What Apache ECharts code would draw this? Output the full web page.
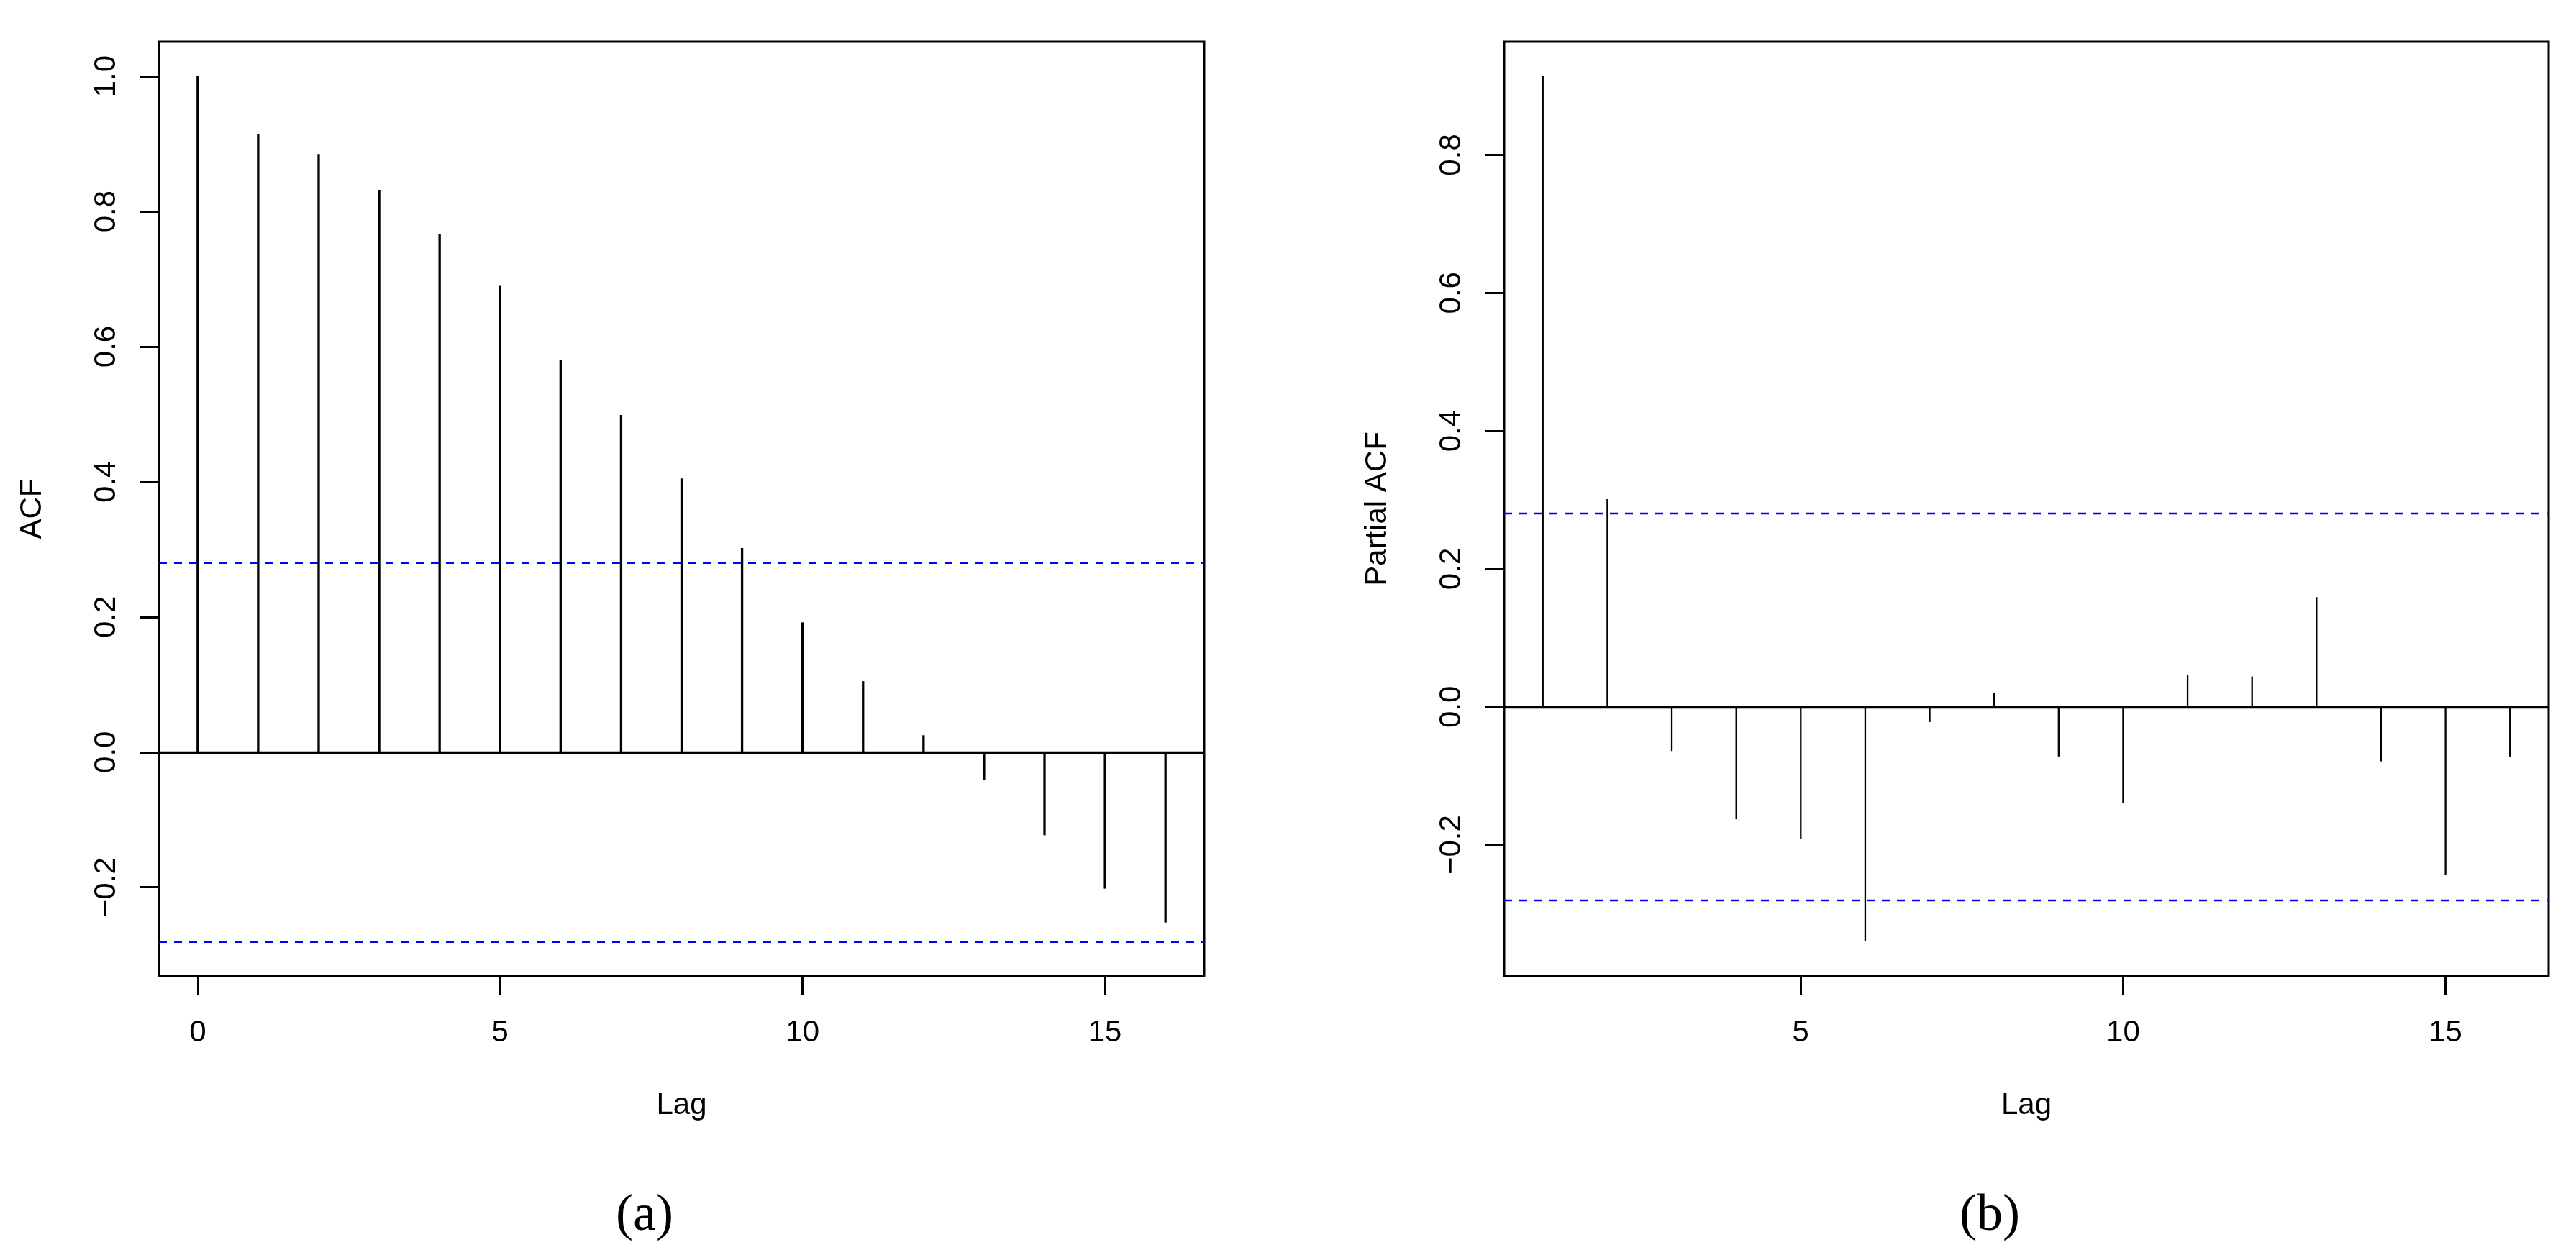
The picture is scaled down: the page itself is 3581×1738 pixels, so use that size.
<!DOCTYPE html>
<html>
<head>
<meta charset="utf-8">
<script src="https://cdn.jsdelivr.net/npm/echarts@6/dist/echarts.min.js"></script>
<style>
html,body{margin:0;padding:0;background:#fff;}
#chart{width:3581px;height:1738px;}
</style>
</head>
<body>
<div id="chart"></div>
<script>
// ---- data ----
const lagsA = [0,1,2,3,4,5,6,7,8,9,10,11,12,13,14,15,16];
const acfValues = [1.000,0.914,0.885,0.832,0.767,0.691,0.580,0.499,0.405,0.302,0.192,0.105,0.025,-0.041,-0.123,-0.202,-0.252];
const lagsB = [1,2,3,4,5,6,7,8,9,10,11,12,13,14,15,16];
const pacfValues = [0.914,0.301,-0.064,-0.163,-0.192,-0.340,-0.022,0.020,-0.072,-0.139,0.046,0.044,0.159,-0.079,-0.244,-0.073];
const ciBound = 0.28;
const xTicksA = [0,5,10,15];
const xTicksB = [5,10,15];
const yTicksA = [-0.2,0,0.2,0.4,0.6,0.8,1.0];
const yTicksB = [-0.2,0,0.2,0.4,0.6,0.8];
const titleA = 'ACF';
const titleB = 'Partial ACF';
const xTitle = 'Lag';
const captions = ['(a)','(b)'];

// R-style axis limits: data range extended by 4%
function extend(lo, hi){ const d=(hi-lo)*0.04; return [lo-d, hi+d]; }
const xlimA = extend(Math.min(...lagsA), Math.max(...lagsA));
const xlimB = extend(Math.min(...lagsB), Math.max(...lagsB));
const ylimA = extend(Math.min(...acfValues, -ciBound), Math.max(...acfValues, ciBound));
const ylimB = extend(Math.min(...pacfValues, -ciBound), Math.max(...pacfValues, ciBound));

const SANS = '"Liberation Sans", Arial, Helvetica, sans-serif';
const fmtY = v => (v < 0 ? '\u2212' : '') + Math.abs(v).toFixed(1);

function xAxisOf(idx, lim, ticks){
  return {
    type:'value', gridIndex: idx, min: lim[0], max: lim[1], position:'bottom',
    name: xTitle, nameLocation:'middle', nameGap: 159,
    nameTextStyle:{fontFamily:SANS, fontSize:42, color:'#000'},
    axisLine:{show:false, onZero:false},
    splitLine:{show:false},
    axisTick:{show:true, length:26, inside:false, customValues: ticks, lineStyle:{color:'#000', width:3}},
    axisLabel:{show:true, margin:58, customValues: ticks, fontFamily:SANS, fontSize:42, color:'#000', formatter: v => String(v)}
  };
}
function yAxisOf(idx, lim, ticks, title){
  return {
    type:'value', gridIndex: idx, min: lim[0], max: lim[1], position:'left',
    name: title, nameLocation:'middle', nameGap: 155,
    nameTextStyle:{fontFamily:SANS, fontSize:42, color:'#000'},
    axisLine:{show:false, onZero:false},
    splitLine:{show:false},
    axisTick:{show:true, length:26, inside:false, customValues: ticks, lineStyle:{color:'#000', width:3}},
    axisLabel:{show:true, rotate:90, margin:52, customValues: ticks, fontFamily:SANS, fontSize:42, color:'#000', formatter: fmtY}
  };
}
function stemSeries(idx, xs, ys, stemW, ciW, zeroW){
  return {
    type:'bar', xAxisIndex: idx, yAxisIndex: idx,
    data: xs.map((x,i)=>[x, ys[i]]),
    barWidth: stemW,
    itemStyle:{color:'#000'},
    silent:true, animation:false,
    markLine:{
      silent:true, symbol:['none','none'], animation:false,
      label:{show:false},
      data:[
        {yAxis:0, lineStyle:{color:'#000', width:zeroW, type:'solid'}},
        {yAxis:ciBound, lineStyle:{color:'#0000FF', width:ciW, type:[11,10]}},
        {yAxis:-ciBound, lineStyle:{color:'#0000FF', width:ciW, type:[11,10]}}
      ]
    }
  };
}

const chart = echarts.init(document.getElementById('chart'), null, {renderer:'canvas'});
chart.setOption({
  backgroundColor:'#fff',
  animation:false,
  grid:[
    {left:221, top:58, width:1453, height:1299, show:true, borderColor:'#000', borderWidth:3, backgroundColor:'transparent'},
    {left:2091, top:58, width:1452, height:1299, show:true, borderColor:'#000', borderWidth:3, backgroundColor:'transparent'}
  ],
  xAxis:[ xAxisOf(0, xlimA, xTicksA), xAxisOf(1, xlimB, xTicksB) ],
  yAxis:[ yAxisOf(0, ylimA, yTicksA, titleA), yAxisOf(1, ylimB, yTicksB, titleB) ],
  series:[
    stemSeries(0, lagsA, acfValues, 3.3, 3, 3.3),
    stemSeries(1, lagsB, pacfValues, 2.3, 2.3, 3.3)
  ],
  graphic:[
    {type:'text', x:896, y:1691, style:{text:captions[0], font:'72px "Liberation Serif", "DejaVu Serif", serif', fill:'#000', textAlign:'center', textVerticalAlign:'middle'}},
    {type:'text', x:2766, y:1691, style:{text:captions[1], font:'72px "Liberation Serif", "DejaVu Serif", serif', fill:'#000', textAlign:'center', textVerticalAlign:'middle'}}
  ]
});
</script>
</body>
</html>
